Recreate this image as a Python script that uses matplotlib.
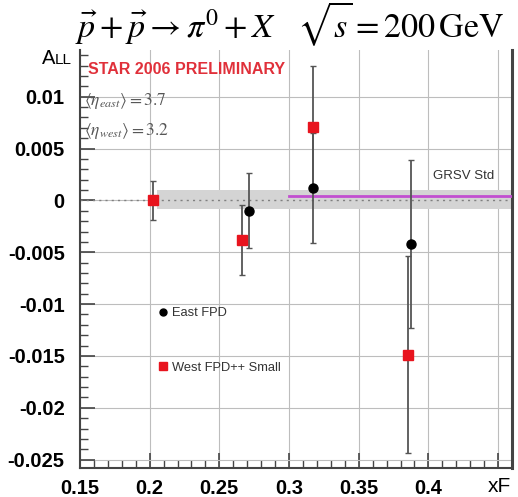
import matplotlib
matplotlib.use("Agg")
import matplotlib.pyplot as plt
from matplotlib.ticker import MultipleLocator, FixedLocator
from matplotlib.lines import Line2D

# ---- data ----
east_x = [0.2716, 0.3170, 0.3878]
east_y = [-0.0010, 0.0012, -0.0042]
east_err = [0.0036, 0.0053, 0.0081]

west_x = [0.2027, 0.2666, 0.3169, 0.3854]
west_y = [0.0000, -0.0038, 0.0071, -0.0149]
west_err = [0.0019, 0.0034, 0.0059, 0.0095]

band_x = [0.205, 0.46]
band_lo = -0.0008
band_hi = 0.0010

grsv_x = [0.300, 0.46]
grsv_y = [0.0004, 0.0004]

xticks = [0.15, 0.2, 0.25, 0.3, 0.35, 0.4, 0.45]
xticklabels = ["0.15", "0.2", "0.25", "0.3", "0.35", "0.4", ""]
yticks = [0.01, 0.005, 0, -0.005, -0.01, -0.015, -0.02, -0.025]
yticklabels = ["0.01", "0.005", "0", "-0.005", "-0.01", "-0.015", "-0.02", "-0.025"]

plt.rcParams['mathtext.fontset'] = 'stix'

W, H = 518, 497
fig = plt.figure(figsize=(W / 100, H / 100), dpi=100)
ax = fig.add_axes([80 / W, 1 - 468 / H, (512 - 80) / W, (468 - 50) / H])

ax.set_xlim(0.15, 0.46)
ax.set_ylim(-0.0258, 0.0145)

# ticks
ax.xaxis.set_major_locator(FixedLocator(xticks))
ax.set_xticklabels(xticklabels)
ax.xaxis.set_minor_locator(MultipleLocator(0.01))
ax.yaxis.set_major_locator(FixedLocator(yticks))
ax.set_yticklabels(yticklabels)
ax.yaxis.set_minor_locator(MultipleLocator(0.001))

ax.tick_params(axis="both", which="major", direction="in", length=11, width=1.2,
               color="#444444", labelsize=14.5, pad=8)
ax.tick_params(axis="y", which="major", pad=11)
ax.tick_params(axis="both", which="minor", direction="in", length=6, width=1.0, color="#444444")
ax.tick_params(top=False, right=False)

# grid at the major ticks
ax.grid(True, which="major", color="#bdbdbd", ls="-", lw=0.8, zorder=1)
ax.set_axisbelow(True)

# band and zero line
ax.fill_between(band_x, band_lo, band_hi, color="#d4d4d4", lw=0, zorder=1.2)
ax.axhline(0, color="#808080", ls=(0, (1.5, 3)), lw=1.0, zorder=2)
ax.plot(grsv_x, grsv_y, color="#c24fd0", lw=2, zorder=3)

ek = dict(ecolor="#555555", elinewidth=1.3, capsize=2.5, capthick=1.0, ls="none", zorder=4)
ax.errorbar(east_x, east_y, yerr=east_err, fmt="o", color="black", ms=6.5, mec="black", **ek)
ax.errorbar(west_x, west_y, yerr=west_err, fmt="s", color="#e8141e", ms=6.5, mec="#e8141e", **ek)

ax.set_xlim(0.15, 0.46)
ax.set_ylim(-0.0258, 0.0145)

for lab in ax.get_xticklabels() + ax.get_yticklabels():
    lab.set_fontweight("bold")
    lab.set_family("Liberation Sans")

for s in ["left", "bottom", "right"]:
    ax.spines[s].set_color("#444444")
    ax.spines[s].set_linewidth(1.5)
ax.spines["top"].set_visible(False)
ax.spines["right"].set_linewidth(2.2)

# texts
fig.text(290 / W, 1 - 24 / H,
         r"$\vec{p}+\vec{p}\rightarrow\pi^0+X\quad\sqrt{s}=200\,\mathrm{GeV}$",
         fontsize=24.5, ha="center", va="center")
fig.text(55 / W, 1 - 64 / H, "A", fontsize=14.5, ha="right", va="baseline", family="Liberation Sans")
fig.text(55 / W, 1 - 64 / H, "LL", fontsize=11, ha="left", va="baseline", family="Liberation Sans")
fig.text(511 / W, 1 - 486 / H, "xF", fontsize=15, ha="right", va="center", family="Liberation Sans")

fig.text(88 / W, 1 - 70 / H, "STAR 2006 PRELIMINARY", color="#e0303a", fontsize=11.5,
         fontweight="bold", ha="left", va="center", family="Liberation Sans")
fig.text(84 / W, 1 - 101 / H, r"$\langle\eta_{east}\rangle = 3.7$", color="#555555",
         fontsize=12.5, ha="left", va="center")
fig.text(84 / W, 1 - 131 / H, r"$\langle\eta_{west}\rangle = 3.2$", color="#555555",
         fontsize=12.5, ha="left", va="center")
fig.text(433 / W, 1 - 176 / H, "GRSV Std", color="#333333", fontsize=9.5,
         ha="left", va="center", family="Liberation Sans")

handles = [Line2D([], [], marker="o", color="black", ls="none", ms=5),
           Line2D([], [], marker="s", color="#e8141e", ls="none", ms=6)]
leg = ax.legend(handles, ["East FPD", "West FPD++ Small"], loc="upper left",
                bbox_to_anchor=((157 - 80) / 432, (468 - 307) / 418),
                frameon=False, fontsize=9.3, labelspacing=3.3, handlelength=1.0,
                handletextpad=0.15, borderaxespad=0, borderpad=0)
for t in leg.get_texts():
    t.set_color("#333333")
    t.set_family("Liberation Sans")

fig.savefig("out.png", dpi=100)
